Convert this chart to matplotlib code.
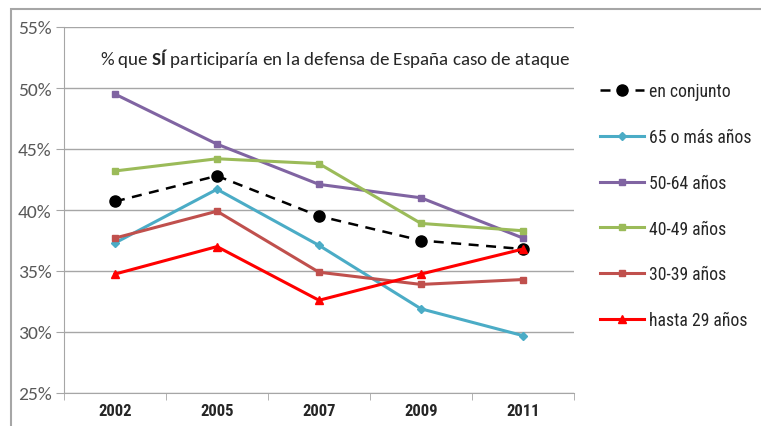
import matplotlib.pyplot as plt
from matplotlib.patches import Rectangle
from matplotlib.ticker import FuncFormatter

# Calibri-like text for title and y labels, Arial Narrow-like for legend/x labels
plt.rcParams["mathtext.fontset"] = "custom"
plt.rcParams["mathtext.rm"] = "Carlito"
plt.rcParams["mathtext.bf"] = "Carlito:bold"
CALIBRI = ["Carlito", "DejaVu Sans"]
NARROW = ["Roboto Condensed", "Archivo Narrow", "DejaVu Sans"]

# --- Data ---
years = ["2002", "2005", "2007", "2009", "2011"]
conjunto = [40.7, 42.8, 39.5, 37.5, 36.8]
mas65 = [37.3, 41.7, 37.1, 31.9, 29.7]
a50_64 = [49.5, 45.4, 42.1, 41.0, 37.7]
a40_49 = [43.2, 44.2, 43.8, 38.9, 38.3]
a30_39 = [37.7, 39.9, 34.9, 33.9, 34.3]
hasta29 = [34.75, 37.0, 32.6, 34.75, 36.8]

labels = ["en conjunto", "65 o más años", "50-64 años", "40-49 años",
          "30-39 años", "hasta 29 años"]

fig = plt.figure(figsize=(7.61, 4.27), dpi=100)
ax = fig.add_axes([64 / 761, 1 - 394 / 427, 510 / 761, 366 / 427])

# outer chart frame (cut by the image edges)
fig.patches.append(Rectangle((11 / 761, -0.1), 1.2, 1 - 10 / 427 + 0.1,
                             transform=fig.transFigure, fill=False,
                             edgecolor="#a6a6a6", linewidth=1.5))

x = range(len(years))
ax.plot(x, conjunto, color="black", linestyle=(0, (4, 3)), linewidth=1.8,
        marker="o", markersize=8, label=labels[0], zorder=3)
ax.plot(x, mas65, color="#4bacc6", linewidth=2.2, marker="D", markersize=4,
        label=labels[1])
ax.plot(x, a50_64, color="#8064a2", linewidth=2.2, marker="s", markersize=5,
        label=labels[2])
ax.plot(x, a40_49, color="#9bbb59", linewidth=2.2, marker="s", markersize=5,
        label=labels[3])
ax.plot(x, a30_39, color="#c0504d", linewidth=2.2, marker="s", markersize=5,
        label=labels[4])
ax.plot(x, hasta29, color="#ff0000", linewidth=2.2, marker="^", markersize=6,
        label=labels[5], zorder=4)

ax.set_xlim(-0.5, len(years) - 0.5)
ax.set_ylim(25, 55)
ax.set_yticks(range(25, 56, 5))
ax.yaxis.set_major_formatter(FuncFormatter(lambda v, p: f"{v:.0f}%"))
ax.set_xticks(list(x))
ax.set_xticklabels(years, fontfamily=NARROW, fontweight="bold", fontsize=12,
                   color="#262626")
ax.set_xticks([i - 0.5 for i in range(len(years) + 1)], minor=True)
ax.tick_params(axis="x", which="major", length=0, pad=7)
ax.tick_params(axis="x", which="minor", length=5, color="#a6a6a6")
ax.tick_params(axis="y", length=6, color="#a6a6a6", labelsize=14,
               labelcolor="#595959", pad=3)
for lab in ax.get_yticklabels():
    lab.set_fontfamily(CALIBRI)

ax.grid(axis="y", color="#a6a6a6", linewidth=1)
ax.set_axisbelow(True)
for side in ["top", "right"]:
    ax.spines[side].set_visible(False)
ax.spines["left"].set_color("#a6a6a6")
ax.spines["bottom"].set_color("#a6a6a6")

fig.text(100 / 761, 1 - 59 / 427,
         "% que $\\bf{SÍ}$ participaría en la defensa de España caso de ataque",
         fontsize=13.7, color="#262626", va="center", family=CALIBRI)

leg = fig.legend(*ax.get_legend_handles_labels(), loc="upper left",
                 bbox_to_anchor=(600 / 761, 1 - 83 / 427),
                 frameon=False, handlelength=2.5, handletextpad=0.3,
                 borderpad=0, borderaxespad=0,
                 labelspacing=1.58, prop={"family": NARROW, "size": 12.7})
for txt in leg.get_texts():
    txt.set_color("#262626")

fig.savefig("out.png", dpi=100)
